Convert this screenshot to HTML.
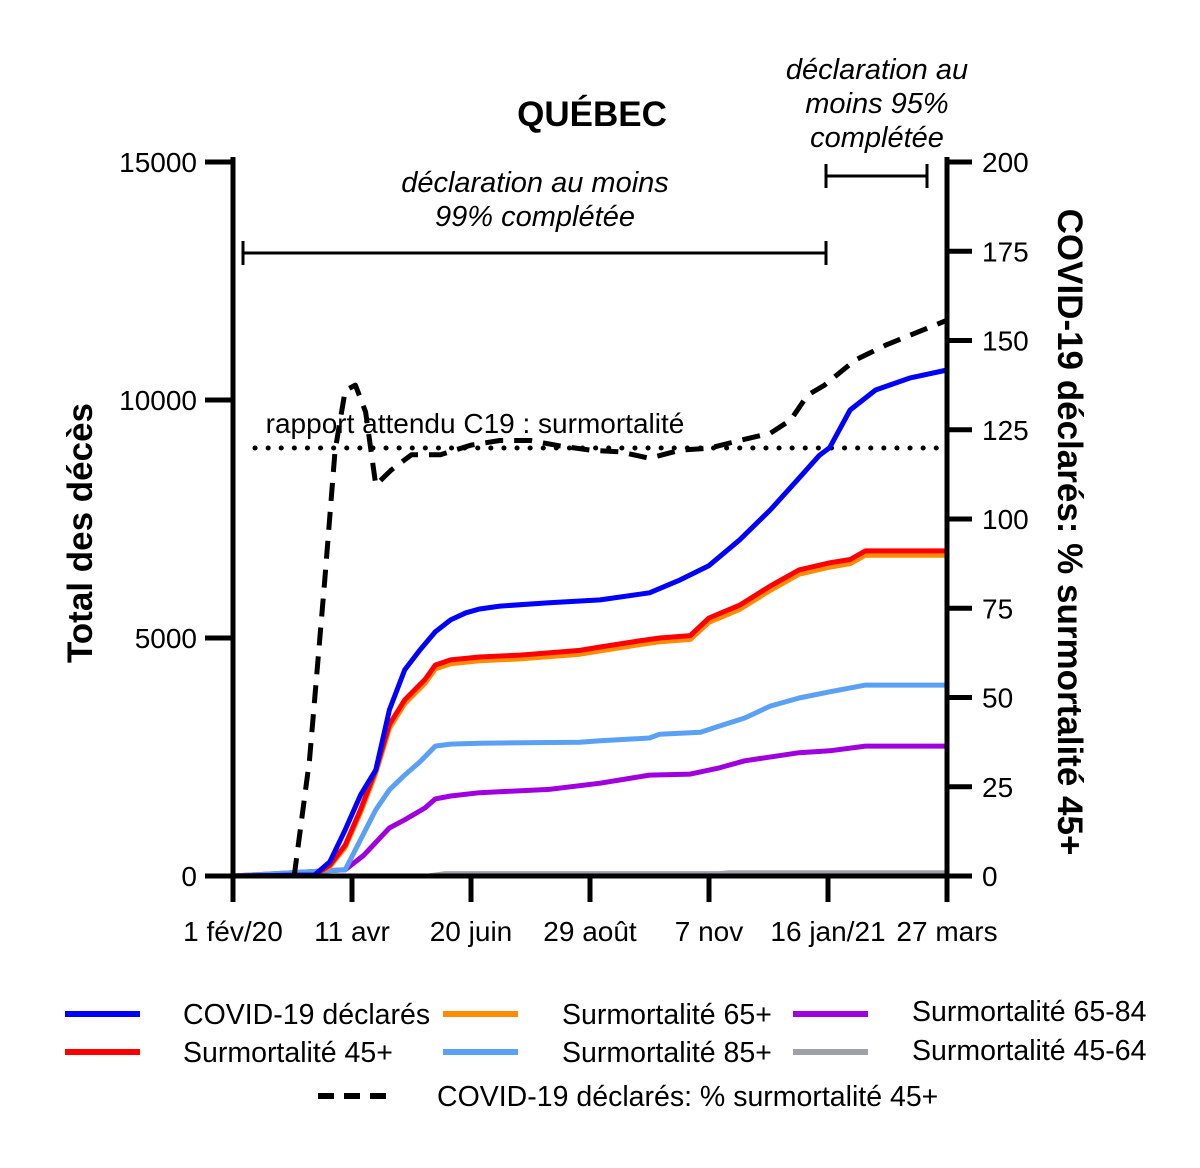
<!DOCTYPE html>
<html><head><meta charset="utf-8"><style>
body{margin:0;background:#fff}
svg text{font-family:"Liberation Sans",Arial,sans-serif;fill:#000}
</style></head><body>
<svg id="c" width="1200" height="1163" viewBox="0 0 1200 1163" xmlns="http://www.w3.org/2000/svg">
<text x="592" y="126" font-size="35" font-weight="bold" text-anchor="middle">QUÉBEC</text>
<text transform="translate(92,533) rotate(-90)" font-size="35" font-weight="bold" text-anchor="middle">Total des décès</text>
<text transform="translate(1058,532) rotate(90)" font-size="35" font-weight="bold" text-anchor="middle">COVID-19 déclarés: % surmortalité 45+</text>
<g font-style="italic" font-size="29" text-anchor="middle">
<text x="535" y="192">déclaration au moins</text>
<text x="535" y="226">99% complétée</text>
<text x="877" y="79">déclaration au</text>
<text x="877" y="113">moins 95%</text>
<text x="877" y="147">complétée</text>
</g>
<g stroke="#000" stroke-width="3">
<line x1="243" y1="253" x2="826" y2="253"/><line x1="243" y1="241" x2="243" y2="265"/><line x1="826" y1="241" x2="826" y2="265"/>
<line x1="826" y1="176" x2="927" y2="176"/><line x1="826" y1="164" x2="826" y2="188"/><line x1="927" y1="164" x2="927" y2="188"/>
</g>
<line x1="255" y1="448" x2="947" y2="448" stroke="#000" stroke-width="5" stroke-dasharray="0.1 13" stroke-linecap="round"/>
<text x="475" y="433" font-size="28" text-anchor="middle">rapport attendu C19 : surmortalité</text>
<g id="series"></g>
<g id="axes"></g>
<g font-size="28.5">
<line x1="65" y1="1014" x2="140" y2="1014" stroke="#0000ff" stroke-width="6"/>
<text x="183" y="1024">COVID-19 déclarés</text>
<line x1="65" y1="1052" x2="140" y2="1052" stroke="#ff0000" stroke-width="6"/>
<text x="183" y="1062">Surmortalité 45+</text>
<line x1="443" y1="1014" x2="518" y2="1014" stroke="#ff8c00" stroke-width="6"/>
<text x="562" y="1024">Surmortalité 65+</text>
<line x1="443" y1="1052" x2="518" y2="1052" stroke="#5aa0f5" stroke-width="6"/>
<text x="562" y="1062">Surmortalité 85+</text>
<line x1="793" y1="1014" x2="868" y2="1014" stroke="#a000e0" stroke-width="6"/>
<text x="912" y="1021">Surmortalité 65-84</text>
<line x1="793" y1="1052" x2="868" y2="1052" stroke="#a0a0a8" stroke-width="6"/>
<text x="912" y="1060">Surmortalité 45-64</text>
<line x1="318" y1="1096" x2="393" y2="1096" stroke="#000" stroke-width="6" stroke-dasharray="16 10"/>
<text x="437" y="1106">COVID-19 déclarés: % surmortalité 45+</text>
</g>
</svg>
<script>
const xTickLabels=["1 fév/20","11 avr","20 juin","29 août","7 nov","16 jan/21","27 mars"];
const xTickDays=[0,70,140,210,280,350,420];
const yLeftTicks=[0,5000,10000,15000];
const yRightTicks=[0,25,50,75,100,125,150,175,200];
const blueDays=[0,48,57,66,75,84,92,101,110,119,128,137,145,157,186,216,245,263,280,298,316,333,345,351,363,378,398,420];
const blueVals=[0,20,300,970,1700,2230,3490,4330,4750,5130,5380,5530,5610,5670,5740,5800,5950,6220,6520,7060,7690,8360,8840,9000,9790,10210,10460,10630];
const redDays=[0,48,57,66,75,84,92,101,113,119,128,145,169,204,216,239,251,269,280,298,316,333,351,363,372,420];
const redVals=[0,20,230,650,1390,2230,3180,3700,4130,4430,4540,4600,4640,4740,4810,4940,5000,5050,5420,5690,6090,6430,6580,6650,6830,6830];
const orangeVals=[0,15,200,600,1330,2160,3100,3620,4050,4350,4460,4520,4560,4660,4730,4860,4920,4970,5330,5600,6000,6340,6490,6560,6740,6740];
const lblueDays=[0,66,75,84,92,101,110,119,128,145,204,216,245,251,275,286,301,316,333,351,372,420];
const lblueVals=[0,130,760,1390,1810,2120,2400,2730,2770,2790,2810,2840,2900,2980,3020,3150,3320,3570,3740,3870,4010,4010];
const purpleDays=[0,66,77,92,101,113,119,128,145,186,216,245,269,286,301,333,351,372,420];
const purpleVals=[0,130,440,1010,1180,1430,1620,1680,1750,1820,1950,2120,2140,2270,2420,2590,2630,2730,2730];
const grayDays=[0,115,125,286,292,420];
const grayVals=[0,0,50,50,70,70];
const ratioDays=[36,45,54,60,66,72,78,84,93,105,122,140,157,175,192,210,228,245,263,280,298,316,328,338,348,366,384,420];
const ratioVals=[0,32.5,83,119,136,137.5,130,109.5,113.7,118,118,120.7,122,122,120.5,119.3,118.8,117,119.3,119.8,122,124,127.7,134.7,137.5,144.5,148.7,155.7];

const NS="http://www.w3.org/2000/svg";
const X=d=>233+d*1.7;
const YL=v=>876-v*(714/15000);
const YR=v=>876-v*(714/200);
const series=document.getElementById('series'), axes=document.getElementById('axes');
function mk(tag,attrs,parent){const e=document.createElementNS(NS,tag);for(const k in attrs)e.setAttribute(k,attrs[k]);parent.appendChild(e);return e;}
function line(days,vals,Y,color,name,extra){
  const pts=days.map((d,i)=>X(d).toFixed(1)+','+Y(vals[i]).toFixed(1)).join(' ');
  const p=mk('polyline',Object.assign({points:pts,fill:'none',stroke:color,'stroke-width':5,'stroke-linejoin':'round'},extra||{}),series);
  
  
}
line(grayDays,grayVals,YL,'#a0a0a8','series-45-64');
line(purpleDays,purpleVals,YL,'#a000e0','series-65-84');
line(lblueDays,lblueVals,YL,'#5aa0f5','series-85');
line(redDays,orangeVals,YL,'#ff8c00','series-65');
line(redDays,redVals,YL,'#ff0000','series-45');
line(blueDays,blueVals,YL,'#0000ff','series-covid');
line(ratioDays,ratioVals,YR,'#000','series-ratio',{'stroke-dasharray':'18 11','stroke-width':5});

let a;
a=mk('line',{x1:233,y1:157,x2:233,y2:878,stroke:'#000','stroke-width':5},axes);


a=mk('line',{x1:947,y1:157,x2:947,y2:878,stroke:'#000','stroke-width':5},axes);


a=mk('line',{x1:231,y1:876,x2:949,y2:876,stroke:'#000','stroke-width':5},axes);


yLeftTicks.forEach(v=>{
  const t=mk('line',{x1:205,x2:233,y1:YL(v),y2:YL(v),stroke:'#000','stroke-width':5},axes);
  
  
  const l=mk('text',{x:197,y:YL(v)+10,'font-size':28,'text-anchor':'end'},axes);l.textContent=v;
  
  
});
yRightTicks.forEach(v=>{
  const t=mk('line',{x1:947,x2:972,y1:YR(v),y2:YR(v),stroke:'#000','stroke-width':5},axes);
  
  
  const l=mk('text',{x:982,y:YR(v)+10,'font-size':28},axes);l.textContent=v;
  
  
});
xTickDays.forEach((d,i)=>{
  const t=mk('line',{x1:X(d),x2:X(d),y1:876,y2:902,stroke:'#000','stroke-width':5},axes);
  
  
  const l=mk('text',{x:X(d),y:941,'font-size':28,'text-anchor':'middle'},axes);l.textContent=xTickLabels[i];
  
  
});
</script>
</body></html>
